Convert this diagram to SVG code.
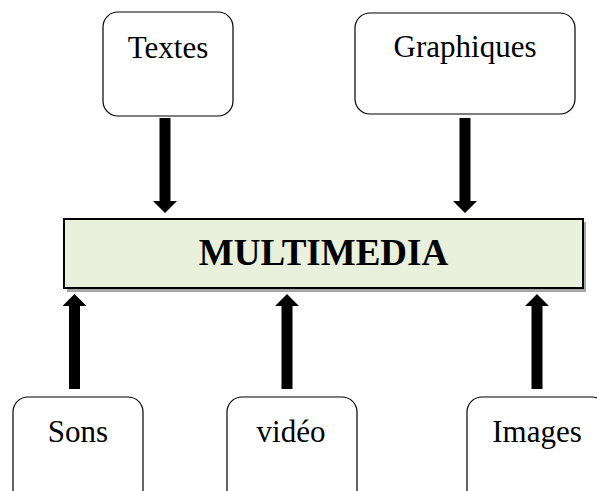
<svg xmlns="http://www.w3.org/2000/svg" width="597" height="491" viewBox="0 0 597 491">
  <style>
    .node { fill: #ffffff; stroke: #000000; stroke-width: 1.2; }
    .label { font-family: "Liberation Serif", "Times New Roman", serif; font-size: 31px; fill: #000000; text-anchor: middle; }
    .title { font-family: "Liberation Serif", "Times New Roman", serif; font-size: 37px; font-weight: bold; fill: #000000; text-anchor: middle; }
    .arrow { fill: #000000; }
  </style>
  <rect width="597" height="491" fill="#ffffff"/>

  <!-- central block -->
  <g id="multimedia">
    <rect x="67" y="222" width="519" height="70" fill="#a6a6a6"/>
    <rect x="64" y="219" width="519" height="69" fill="#e9f0dc" stroke="#000000" stroke-width="2"/>
    <text class="title" x="323.5" y="265">MULTIMEDIA</text>
  </g>

  <!-- sources -->
  <g id="textes">
    <rect class="node" x="103" y="12" width="130" height="104" rx="15"/>
    <text class="label" x="168" y="58">Textes</text>
  </g>
  <g id="graphiques">
    <rect class="node" x="355" y="13" width="220" height="101" rx="15"/>
    <text class="label" x="465" y="57">Graphiques</text>
  </g>
  <g id="sons">
    <rect class="node" x="13" y="397" width="130" height="110" rx="15"/>
    <text class="label" x="78" y="442">Sons</text>
  </g>
  <g id="video">
    <rect class="node" x="227" y="397" width="130" height="110" rx="15"/>
    <text class="label" x="291" y="442">vidéo</text>
  </g>
  <g id="images">
    <rect class="node" x="467" y="397" width="140" height="110" rx="15"/>
    <text class="label" x="537" y="442">Images</text>
  </g>

  <!-- block arrows into the central block -->
  <g id="connectors">
    <polygon class="arrow" points="159.5,118 170.5,118 170.5,201 177,201 165,213 153,201 159.5,201"/>
    <polygon class="arrow" points="459.5,118 470.5,118 470.5,201 477,201 465,213 453,201 459.5,201"/>
    <polygon class="arrow" points="69,389 80,389 80,306 86.5,306 74.5,294 62.5,306 69,306"/>
    <polygon class="arrow" points="281.5,389 292.5,389 292.5,306 299,306 287,294 275,306 281.5,306"/>
    <polygon class="arrow" points="531.5,389 542.5,389 542.5,306 549,306 537,294 525,306 531.5,306"/>
  </g>
</svg>
